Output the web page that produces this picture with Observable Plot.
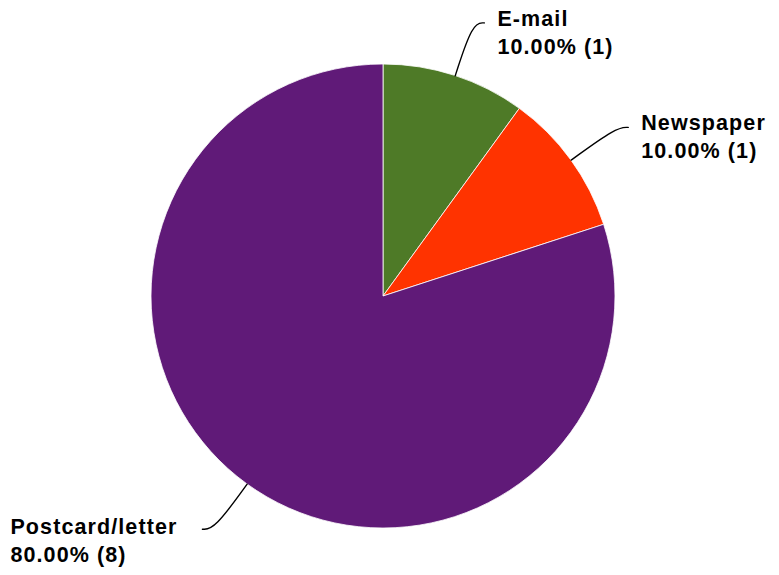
<!DOCTYPE html>
<html>
<head>
<meta charset="utf-8">
<script src="https://cdn.jsdelivr.net/npm/d3@7"></script>
<script src="https://cdn.jsdelivr.net/npm/@observablehq/plot@0.6"></script>
<style>
  html, body { margin: 0; padding: 0; background: #fff; }
  #chart svg text { letter-spacing: 1.1px; }
</style>
</head>
<body>
<div id="chart"></div>
<script>
const categories = ["E-mail", "Newspaper", "Postcard/letter"];
const counts = [1, 1, 8];
const colors = ["#4E7A27", "#FF3300", "#601A78"];

const W = 779, H = 575;
const cx = 383, cy = 296, R = 232;

const total = d3.sum(counts);
const pie = d3.pie().sort(null).value(d => d.count);
const rows = categories.map((c, i) => ({cat: c, count: counts[i], color: colors[i]}));
const arcs = pie(rows);

// leader lines & labels derived from slice mid angles
const leaders = [];
const labels = [];
arcs.forEach(a => {
  const m = (a.startAngle + a.endAngle) / 2;
  const s = Math.sin(m), c = Math.cos(m);
  const side = s >= 0 ? 1 : -1;
  const r2 = 1.24;
  const hook = 12 / R;
  const pts = [
    [s, c],
    [r2 * s, r2 * c],
    [r2 * s + side * hook, r2 * c]
  ];
  pts.forEach(p => leaders.push({cat: a.data.cat, x: p[0], y: p[1]}));
  const pct = (a.data.count / total * 100).toFixed(2);
  labels.push({
    cat: a.data.cat,
    x: r2 * s + side * hook,
    y: r2 * c,
    side,
    text: `${a.data.cat}\n${pct}% (${a.data.count})`
  });
});

const slicesMark = (index, scales) => {
  const x0 = scales.x(0), y0 = scales.y(0);
  const rad = scales.x(1) - scales.x(0);
  const arcGen = d3.arc().innerRadius(0).outerRadius(rad);
  const g = d3.create("svg:g").attr("transform", `translate(${x0},${y0})`);
  g.selectAll("path").data(arcs).join("path")
    .attr("d", arcGen)
    .attr("fill", d => d.data.color)
    .attr("stroke", "#ffffff")
    .attr("stroke-width", 0.8)
    .attr("stroke-linejoin", "round");
  return g.node();
};

const plot = Plot.plot({
  width: W,
  height: H,
  margin: 0,
  x: {domain: [-cx / R, (W - cx) / R], range: [0, W], axis: null},
  y: {domain: [cy / R, -(H - cy) / R], range: [0, H], axis: null},
  style: {fontFamily: "'Liberation Sans', Arial, sans-serif", background: "#fff"},
  marks: [
    slicesMark,
    Plot.line(leaders, {x: "x", y: "y", z: "cat", curve: "basis", stroke: "#000", strokeWidth: 1.4}),
    Plot.text(labels.filter(d => d.side > 0), {
      x: "x", y: "y", text: "text", textAnchor: "start", lineAnchor: "middle",
      dx: 13, dy: 8, lineHeight: 1.3, fontSize: 21.5, fontWeight: "bold", fill: "#000"
    }),
    Plot.text(labels.filter(d => d.side < 0), {
      x: "x", y: "y", text: "text", textAnchor: "start", lineAnchor: "middle",
      dx: -192, dy: 10, lineHeight: 1.3, fontSize: 21.5, fontWeight: "bold", fill: "#000"
    })
  ]
});
document.getElementById("chart").appendChild(plot);
</script>
</body>
</html>
